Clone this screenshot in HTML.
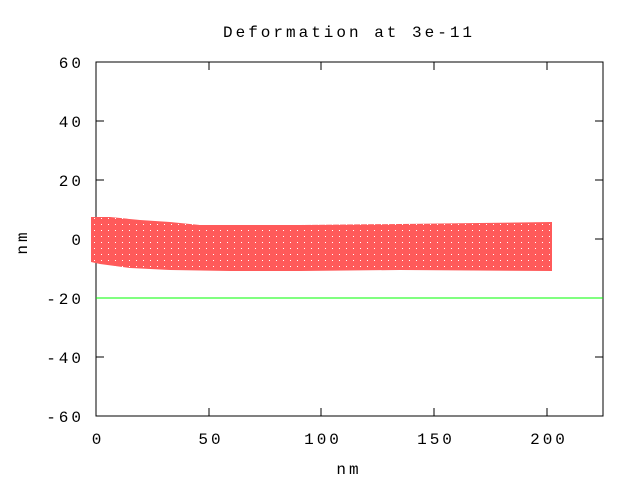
<!DOCTYPE html>
<html><head><style>body{margin:0;background:#fff}</style></head><body>
<svg width="640" height="480" xmlns="http://www.w3.org/2000/svg" font-family="Liberation Mono, monospace" font-size="16" fill="#000" letter-spacing="3">
<defs>
<pattern id="p" width="7" height="6" patternUnits="userSpaceOnUse">
<rect width="7" height="6" fill="#ff5a5a"/>
<rect x="3" y="2" width="1" height="1" fill="#fff"/>
</pattern>
</defs>
<rect x="96" y="62" width="507" height="354" fill="none" stroke="#000" stroke-width="1"/>
<g stroke="#000">
<line x1="96" y1="62" x2="104" y2="62"/><line x1="603" y1="62" x2="595" y2="62"/>
<line x1="96" y1="121" x2="104" y2="121"/><line x1="603" y1="121" x2="595" y2="121"/>
<line x1="96" y1="180" x2="104" y2="180"/><line x1="603" y1="180" x2="595" y2="180"/>
<line x1="96" y1="239" x2="104" y2="239"/><line x1="603" y1="239" x2="595" y2="239"/>
<line x1="96" y1="298" x2="104" y2="298"/><line x1="603" y1="298" x2="595" y2="298"/>
<line x1="96" y1="357" x2="104" y2="357"/><line x1="603" y1="357" x2="595" y2="357"/>
<line x1="209" y1="416" x2="209" y2="408"/><line x1="209" y1="62" x2="209" y2="70"/>
<line x1="321" y1="416" x2="321" y2="408"/><line x1="321" y1="62" x2="321" y2="70"/>
<line x1="434" y1="416" x2="434" y2="408"/><line x1="434" y1="62" x2="434" y2="70"/>
<line x1="547" y1="416" x2="547" y2="408"/><line x1="547" y1="62" x2="547" y2="70"/>
</g>
<g text-anchor="end">
<text x="84" y="68">60</text><text x="84" y="127">40</text><text x="84" y="186">20</text>
<text x="84" y="245">0</text><text x="84" y="304">-20</text><text x="84" y="363">-40</text><text x="84" y="422">-60</text>
</g>
<g text-anchor="middle">
<text x="98" y="444">0</text><text x="211" y="444">50</text><text x="323" y="444">100</text>
<text x="436" y="444">150</text><text x="549" y="444">200</text>
<text x="349" y="474">nm</text>
<text x="349" y="37">Deformation at 3e-11</text>
<text transform="translate(27,242) rotate(-90)">nm</text>
</g>
<line x1="96" y1="298" x2="603" y2="298" stroke="#00ff00"/>
<polygon points="91,217 110,217 140,220 170,222 200,225 230,225 300,225 400,224 552,222 552,271 400,270 300,271 230,271 170,270 130,268 100,264 91,262" fill="url(#p)"/>
</svg>
</body></html>
